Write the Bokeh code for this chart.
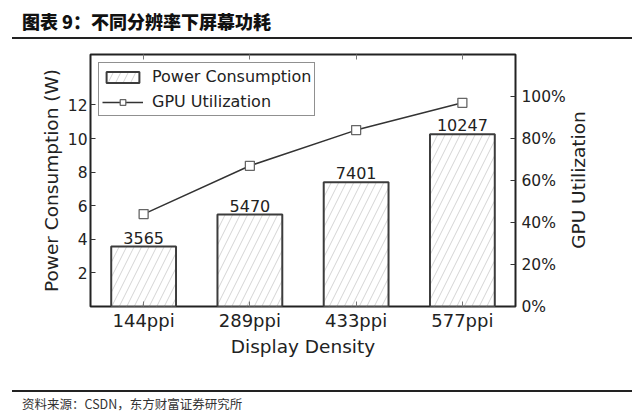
import math
from bokeh.plotting import figure
from bokeh.layouts import column, row
from bokeh.models import (Range1d, FactorRange, LinearAxis, CategoricalAxis, FixedTicker,
                          Legend, LegendItem, ColumnDataSource, Div)
from bokeh.embed import file_html
from bokeh.resources import INLINE
from bokeh.core.properties import value

# ---- data ----
categories = ["144ppi", "289ppi", "433ppi", "577ppi"]
power_mw = [3565, 5470, 7401, 10247]
gpu_util = [44, 67, 84, 97]
left_ticks = [2, 4, 6, 8, 10, 12]
right_ticks = [0, 20, 40, 60, 80, 100]
right_tick_labels = ["0%", "20%", "40%", "60%", "80%", "100%"]
title_text = "图表 9：不同分辨率下屏幕功耗"
source_text = "资料来源：CSDN，东方财富证券研究所"
x_label = "Display Density"
y_label = "Power Consumption (W)"
y2_label = "GPU Utilization"
legend_labels = ["Power Consumption", "GPU Utilization"]

FONT = "DejaVu Sans"
CJK = "Noto Sans CJK SC"
W = 632
HEAD_H = 40
FOOT_H = 31
FIG_H = 340
FIG_W = 568
SIDE_W = W - FIG_W

src = ColumnDataSource(dict(
    cat=categories,
    power=[v / 1000 for v in power_mw],
    plabel=[str(v) for v in power_mw],
    gpu=gpu_util,
))

p = figure(width=FIG_W, height=FIG_H, x_range=FactorRange(*categories), y_range=Range1d(0, 15),
           output_backend="svg", toolbar_location=None,
           min_border_left=90, min_border_right=FIG_W - 515, min_border_top=14, min_border_bottom=74)
p.extra_y_ranges = {"gpu": Range1d(0, 120)}
p.xgrid.grid_line_color = None
p.ygrid.grid_line_color = None
p.outline_line_color = "#222222"
p.outline_line_width = 2
p.background_fill_color = "white"
p.border_fill_color = "white"

bars = p.vbar(x="cat", top="power", width=0.61, source=src, fill_color="white",
              line_color="#3c3c3c", line_width=2, hatch_pattern="/", hatch_color="#d4d4d4",
              hatch_scale=15, hatch_weight=1)
p.text(x="cat", y="power", text="plabel", source=src, text_align="center",
       text_baseline="middle", y_offset=-9, text_font=value(FONT),
       text_font_size="16px", text_color="#222222")
ln = p.line(x="cat", y="gpu", source=src, y_range_name="gpu", line_color="#333333", line_width=1.5)
sc = p.scatter(x="cat", y="gpu", source=src, y_range_name="gpu", marker="square", size=9,
               fill_color="white", line_color="#666666", line_width=1.3)

# bottom axis
xa = p.xaxis[0]
xa.axis_label = x_label
xa.axis_label_text_font = FONT
xa.axis_label_text_font_style = "normal"
xa.axis_label_text_font_size = "18.5px"
xa.axis_label_text_color = "#222222"
xa.axis_label_standoff = 2
xa.major_label_text_font = FONT
xa.major_label_text_font_size = "18px"
xa.major_label_text_color = "#222222"
xa.major_label_standoff = 3
xa.major_tick_in = 5
xa.major_tick_out = 0
xa.major_tick_line_color = "#777777"
xa.axis_line_color = None

# left axis
ya = p.yaxis[0]
ya.ticker = FixedTicker(ticks=left_ticks)
ya.axis_label = y_label
ya.axis_label_text_font = FONT
ya.axis_label_text_font_style = "normal"
ya.axis_label_text_font_size = "18.5px"
ya.axis_label_text_color = "#222222"
ya.axis_label_standoff = 3
ya.major_label_text_font = FONT
ya.major_label_text_font_size = "15.5px"
ya.major_label_text_color = "#222222"
ya.major_label_standoff = 3
ya.major_tick_in = 5
ya.major_tick_out = 0
ya.major_tick_line_color = "#333333"
ya.minor_tick_line_color = None
ya.axis_line_color = None

# right axis (label drawn in side Div so it reads bottom to top)
ra = LinearAxis(y_range_name="gpu", ticker=FixedTicker(ticks=right_ticks),
                major_label_overrides={t: l for t, l in zip(right_ticks, right_tick_labels)})
ra.major_label_text_font = FONT
ra.major_label_text_font_size = "15.5px"
ra.major_label_text_color = "#222222"
ra.major_label_standoff = 6
ra.major_tick_in = 5
ra.major_tick_out = 0
ra.major_tick_line_color = "#333333"
ra.minor_tick_line_color = None
ra.axis_line_color = None
p.add_layout(ra, "right")

# top axis (ticks only)
ta = CategoricalAxis(major_label_text_color=None, major_label_text_font_size="0px",
                     major_label_standoff=0, major_tick_in=5, major_tick_out=0,
                     major_tick_line_color="#777777", axis_line_color=None)
p.add_layout(ta, "above")

legend = Legend(items=[LegendItem(label=legend_labels[0], renderers=[bars]),
                       LegendItem(label=legend_labels[1], renderers=[ln, sc])],
                location="top_left", margin=8, padding=3, spacing=4,
                glyph_width=41, glyph_height=14, label_height=21, label_standoff=9,
                label_text_font=FONT, label_text_font_size="16px", label_text_color="#222222",
                border_line_color="#222222", border_line_width=1.5,
                background_fill_color="white", background_fill_alpha=1)
p.add_layout(legend)

side_html = (
    f'<div style="position:relative;width:{SIDE_W}px;height:{FIG_H}px;">'
    f'<div style="position:absolute;left:{579 - FIG_W}px;top:{180 - HEAD_H}px;'
    f'transform:translate(-50%,-50%) rotate(-90deg);white-space:nowrap;'
    f'font-family:\'{FONT}\';font-size:18.5px;line-height:22px;color:#222;">{y2_label}</div>'
    '</div>'
)
head_html = (
    f'<div style="position:relative;width:{W}px;height:{HEAD_H}px;">'
    f'<div style="position:absolute;left:22px;top:9px;font-family:\'{CJK}\';font-weight:900;'
    f'font-size:18px;line-height:24px;color:#111;white-space:nowrap;">{title_text}</div>'
    f'<div style="position:absolute;left:12px;top:37px;width:{W - 12}px;height:2px;background:#222;"></div>'
    '</div>'
)
foot_html = (
    f'<div style="position:relative;width:{W}px;height:{FOOT_H}px;">'
    f'<div style="position:absolute;left:12px;top:10px;width:{W - 12}px;height:2px;background:#222;"></div>'
    f'<div style="position:absolute;left:22px;top:15px;font-family:\'{CJK}\';'
    f'font-size:12.5px;line-height:18px;color:#333;white-space:nowrap;">{source_text}</div>'
    '</div>'
)
head = Div(text=head_html, width=W, height=HEAD_H, margin=(0, 0, 0, 0))
side = Div(text=side_html, width=SIDE_W, height=FIG_H, margin=(0, 0, 0, 0))
foot = Div(text=foot_html, width=W, height=FOOT_H, margin=(0, 0, 0, 0))

layout = column(head, row(p, side, spacing=0), foot, spacing=0)
open("out.html", "w").write(file_html(layout, INLINE))
